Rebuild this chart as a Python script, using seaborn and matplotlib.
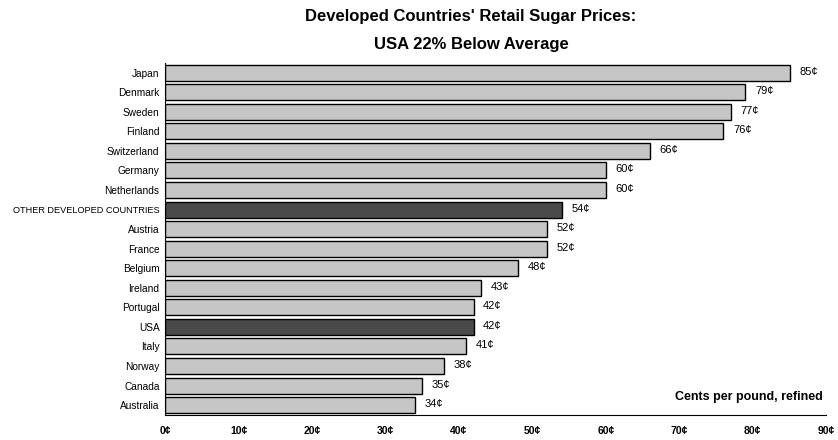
import matplotlib
matplotlib.use('Agg')
import matplotlib.pyplot as plt
import seaborn as sns
import pandas as pd

# ── Datos ─────────────────────────────────────────────
paises = ["Japan", "Denmark", "Sweden", "Finland", "Switzerland", "Germany",
          "Netherlands", "OTHER DEVELOPED COUNTRIES", "Austria", "France",
          "Belgium", "Ireland", "Portugal", "USA", "Italy", "Norway",
          "Canada", "Australia"]
precios = [85, 79, 77, 76, 66, 60, 60, 54, 52, 52, 48, 43, 42, 42, 41, 38, 35, 34]
destacados = ["OTHER DEVELOPED COUNTRIES", "USA"]
ticks_x = [0, 10, 20, 30, 40, 50, 60, 70, 80, 90]

df = pd.DataFrame({"pais": paises, "precio": precios})
colores = ['#4a4a4a' if p in destacados else '#c6c6c6' for p in paises]

sns.set_style("white", {"text.color": "black", "axes.labelcolor": "black",
                        "xtick.color": "black", "ytick.color": "black",
                        "axes.edgecolor": "black"})
plt.rcParams['font.family'] = ['Liberation Sans', 'DejaVu Sans']

fig, ax = plt.subplots(figsize=(8.38, 4.4), dpi=100)
sns.barplot(data=df, x="precio", y="pais", hue="pais", palette=colores,
            legend=False, width=0.82, edgecolor='black', linewidth=1.0,
            saturation=1, ax=ax)

for i, v in enumerate(precios):
    ax.text(v + 1.3, i - 0.05, f"{v}¢", va='center', ha='left', fontsize=8)

ax.set_xlim(0, 90)
ax.set_ylim(len(paises) - 0.5, -0.5)
ax.set_xticks(ticks_x)
ax.set_xticklabels([f"{t}¢" for t in ticks_x], fontsize=7.5, fontweight='bold')
ax.tick_params(axis='y', labelsize=7.3, length=0, pad=4)
ax.tick_params(axis='x', length=0, pad=8)
for lbl in ax.get_yticklabels():
    if lbl.get_text() == "OTHER DEVELOPED COUNTRIES":
        lbl.set_fontsize(6.6)
ax.set_xlabel("")
ax.set_ylabel("")
sns.despine(ax=ax, top=True, right=True)
ax.spines['left'].set_linewidth(0.8)
ax.spines['bottom'].set_linewidth(0.8)

ax.text(0.995, 0.035, "Cents per pound, refined", transform=ax.transAxes,
        ha='right', va='bottom', fontsize=9, fontweight='bold')

fig.text(0.562, 1 - 17 / 440, "Developed Countries' Retail Sugar Prices:",
         ha='center', va='center', fontsize=12, fontweight='bold')
fig.text(0.562, 1 - 45 / 440, "USA 22% Below Average",
         ha='center', va='center', fontsize=12, fontweight='bold')

plt.subplots_adjust(left=0.197, right=0.986, top=0.857, bottom=0.057)
plt.savefig("out.png", dpi=100)
plt.close()
